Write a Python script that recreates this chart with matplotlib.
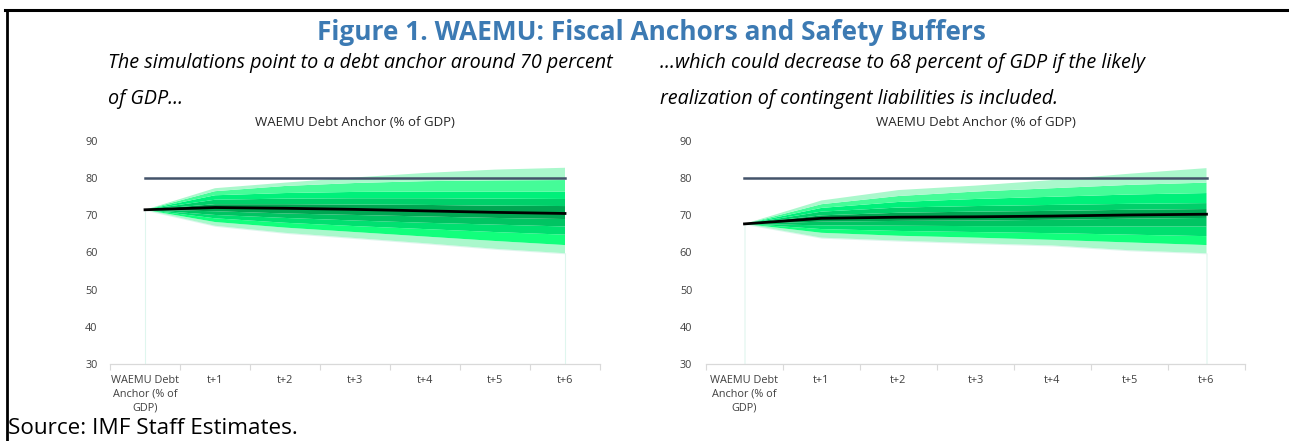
import numpy as np
import matplotlib
matplotlib.use("Agg")
import matplotlib.pyplot as plt
from matplotlib.lines import Line2D

plt.rcParams['font.family'] = ['Open Sans', 'DejaVu Sans']

categories = ["WAEMU Debt\nAnchor (% of\nGDP)", "t+1", "t+2", "t+3", "t+4", "t+5", "t+6"]
threshold = 80

# left panel: baseline simulations (percentiles of debt, % of GDP)
left_p95 = [71.5, 77.3, 78.8, 80.2, 81.4, 82.3, 82.8]
left_p90 = [71.5, 76.5, 77.9, 78.7, 79.2, 79.4, 79.5]
left_p80 = [71.5, 75.4, 76.0, 76.3, 76.4, 76.4, 76.4]
left_p70 = [71.5, 74.2, 74.5, 74.6, 74.6, 74.5, 74.4]
left_p60 = [71.5, 73.0, 73.0, 72.9, 72.8, 72.6, 72.5]
left_med = [71.5, 72.1, 71.9, 71.6, 71.2, 70.8, 70.5]
left_p40 = [71.5, 71.1, 70.5, 70.1, 69.7, 69.3, 69.0]
left_p30 = [71.5, 70.1, 69.3, 68.6, 68.0, 67.5, 67.0]
left_p20 = [71.5, 69.2, 68.0, 67.1, 66.3, 65.5, 64.8]
left_p10 = [71.5, 68.2, 66.7, 65.5, 64.3, 63.1, 62.0]
left_p5 = [71.5, 67.2, 65.3, 63.9, 62.5, 61.0, 59.8]

# right panel: with contingent liabilities
right_p95 = [67.7, 74.0, 76.8, 78.0, 79.5, 81.2, 82.7]
right_p90 = [67.7, 73.0, 75.2, 76.4, 77.3, 78.2, 78.8]
right_p80 = [67.7, 72.0, 73.6, 74.4, 75.0, 75.6, 76.0]
right_p70 = [67.7, 71.0, 72.1, 72.5, 72.8, 73.1, 73.3]
right_p60 = [67.7, 70.0, 70.7, 71.0, 71.2, 71.5, 71.7]
right_med = [67.7, 69.2, 69.5, 69.6, 69.8, 70.1, 70.3]
right_p40 = [67.7, 68.3, 68.5, 68.6, 68.8, 69.1, 69.3]
right_p30 = [67.7, 67.3, 67.2, 67.1, 67.1, 67.0, 67.0]
right_p20 = [67.7, 66.3, 65.8, 65.5, 65.2, 64.8, 64.4]
right_p10 = [67.7, 65.3, 64.5, 64.0, 63.4, 62.7, 62.0]
right_p5 = [67.7, 64.0, 63.2, 62.5, 61.9, 60.6, 59.8]

band_colors = ["#aaf8cc", "#12ff7c", "#00e070", "#00c462", "#00a652",
               "#00d06a", "#00f07a", "#45fc98", "#aaf8cc"]


def fan_panel(ax, bounds, med, ypad):
    x = np.arange(len(categories))
    # white base area like the excel stacked chart
    ax.fill_between(x, 30, bounds[0], facecolor="white", edgecolor="#dff6ee", lw=0.8, zorder=1)
    for i in range(len(bounds) - 1):
        ax.fill_between(x, bounds[i], bounds[i + 1], facecolor=band_colors[i],
                        edgecolor="none", lw=0, zorder=2)
    ax.plot(x, [threshold] * len(x), color="#44546a", lw=1.8, zorder=3)
    ax.plot(x, med, color="black", lw=2.0, zorder=4)

    ax.set_xlim(-0.5, len(categories) - 0.5)
    ax.set_ylim(30, 90)
    ax.set_yticks(range(30, 91, 10))
    ax.set_xticks(x)
    ax.set_xticklabels(categories, fontsize=7.8, color="#404040", linespacing=1.35)
    ax.set_xticks(np.arange(-0.5, len(categories), 1), minor=True)
    ax.tick_params(axis="x", which="major", length=0, pad=8)
    ax.tick_params(axis="x", which="minor", length=4, color="#d9d9d9", width=0.8)
    ax.tick_params(axis="y", length=0, labelsize=7.8, labelcolor="#404040", pad=ypad)
    for s in ["top", "right", "left"]:
        ax.spines[s].set_visible(False)
    ax.spines["bottom"].set_color("#d9d9d9")
    ax.spines["bottom"].set_linewidth(0.9)
    ax.set_title("WAEMU Debt Anchor (% of GDP)", fontsize=9.5, color="#262626", pad=11)


fig = plt.figure(figsize=(12.89, 4.41), dpi=100)

ax1 = fig.add_axes([110 / 1289, 1 - 364 / 441, 490 / 1289, 223 / 441])
fan_panel(ax1, [left_p5, left_p10, left_p20, left_p30, left_p40, left_p60,
                left_p70, left_p80, left_p90, left_p95], left_med, 9)

ax2 = fig.add_axes([706 / 1289, 1 - 364 / 441, 539 / 1289, 223 / 441])
fan_panel(ax2, [right_p5, right_p10, right_p20, right_p30, right_p40, right_p60,
                right_p70, right_p80, right_p90, right_p95], right_med, 10)

# frame lines
fig.add_artist(Line2D([5 / 1289, 1], [1 - 10 / 441] * 2, color="black", lw=2.2))
fig.add_artist(Line2D([6.5 / 1289] * 2, [0, 1 - 10 / 441], color="black", lw=2.0))

fig.text(651 / 1289, 1 - 32 / 441, "Figure 1. WAEMU: Fiscal Anchors and Safety Buffers",
         ha="center", va="center", fontsize=18.9, fontweight="bold", color="#3c7ab3")
sub_kw = dict(ha="left", va="center", fontsize=14.2, style="italic", color="black")
fig.text(108 / 1289, 1 - 63 / 441, "The simulations point to a debt anchor around 70 percent", **sub_kw)
fig.text(108 / 1289, 1 - 99 / 441, "of GDP...", **sub_kw)
fig.text(660 / 1289, 1 - 63 / 441, "...which could decrease to 68 percent of GDP if the likely", **sub_kw)
fig.text(660 / 1289, 1 - 99 / 441, "realization of contingent liabilities is included.", **sub_kw)
fig.text(8 / 1289, 1 - 428 / 441, "Source: IMF Staff Estimates.",
         ha="left", va="center", fontsize=16.2, color="black")

fig.savefig("out.png", dpi=100, facecolor="white")
